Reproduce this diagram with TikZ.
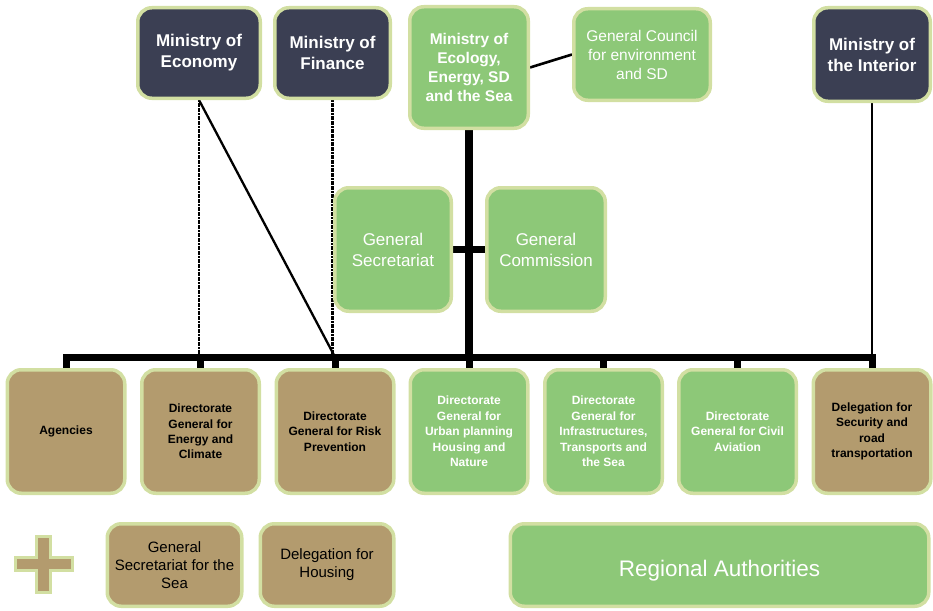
\documentclass[tikz,border=0pt]{standalone}
\usepackage{fontspec}
\setmainfont{Liberation Sans}
\usetikzlibrary{backgrounds}
\definecolor{navy}{HTML}{3B3F53}
\definecolor{leaf}{HTML}{8DC878}
\definecolor{tan}{HTML}{B39B6E}
\definecolor{edge}{HTML}{D2DFA2}
\begin{document}
\begin{tikzpicture}[x=1pt,y=-1pt,
  box/.style={draw=edge, line width=3.5pt, rounded corners=14pt, inner sep=0pt, align=center},
  boxsize/.style 2 args={minimum width=#1pt, minimum height=#2pt},
  ministry/.style={box, fill=navy, text=white, font=\fontsize{17}{21}\selectfont\bfseries},
  greenbox/.style={box, fill=leaf, text=white},
  tanbox/.style={box, fill=tan, text=black},
  dgfont/.style={font=\fontsize{12}{15.4}\selectfont\bfseries},
  bus/.style={line width=7pt, line join=miter},
  trunk/.style={line width=8pt},
  link/.style={line width=2.6pt},
  dotlink/.style={line width=2.2pt, dash pattern=on 2pt off 0.6pt}]
\useasboundingbox (0,0) rectangle (933,610);

% ministries and top-level bodies
\node[ministry, boxsize={122.5}{90.5}] (econ) at (199,53) {Ministry of\\Economy};
\node[ministry, boxsize={115.5}{90.5}] (fin) at (332.5,53) {Ministry of\\Finance};
\node[greenbox, boxsize={118.5}{121.5}, font=\fontsize{15.5}{19}\selectfont\bfseries] (eco) at (469,67.5)
  {Ministry of\\Ecology,\\Energy, SD\\and the Sea};
\node[greenbox, boxsize={136.5}{91.5}, font=\fontsize{15.5}{19}\selectfont] (council) at (642,54.5)
  {General Council\\for environment\\and SD};
\node[ministry, boxsize={116.5}{93.5}] (inter) at (872,54.5) {Ministry of\\the Interior};

% general secretariat and commission
\node[greenbox, boxsize={116.5}{123.5}, font=\fontsize{17}{21}\selectfont] (gsec) at (393,249.5) {General\\Secretariat};
\node[greenbox, boxsize={118.5}{123.5}, font=\fontsize{17}{21}\selectfont] (gcom) at (546,249.5) {General\\Commission};

% directorates
\node[tanbox, dgfont, boxsize={117.5}{123.5}] (agen) at (66,431.5) {Agencies};
\node[tanbox, dgfont, boxsize={117.5}{123.5}] (energy) at (200.5,431.5) {Directorate\\General for\\Energy and\\Climate};
\node[tanbox, dgfont, boxsize={117.5}{123.5}] (risk) at (335,431.5) {Directorate\\General for Risk\\Prevention};
\node[greenbox, text=white, dgfont, boxsize={117.5}{123.5}] (urban) at (469,431.5) {Directorate\\General for\\Urban planning\\Housing and\\Nature};
\node[greenbox, text=white, dgfont, boxsize={117.5}{123.5}] (infra) at (603.5,431.5) {Directorate\\General for\\Infrastructures,\\Transports and\\the Sea};
\node[greenbox, text=white, dgfont, boxsize={117.5}{123.5}] (civil) at (737.5,431.5) {Directorate\\General for Civil\\Aviation};
\node[tanbox, dgfont, boxsize={117.5}{123.5}] (secu) at (872,431.5) {Delegation for\\Security and\\road\\transportation};

% additional bodies
\draw[fill=tan, draw=edge, line width=3pt]
  (15,557.5) -- (36.5,557.5) -- (36.5,536) -- (50.5,536) -- (50.5,557.5) -- (72,557.5)
  -- (72,570.5) -- (50.5,570.5) -- (50.5,592) -- (36.5,592) -- (36.5,570.5) -- (15,570.5) -- cycle;
\node[tanbox, boxsize={134.5}{82.5}, font=\fontsize{15}{18}\selectfont] (sea) at (174.5,565) {General\\Secretariat for the\\Sea};
\node[tanbox, boxsize={133.5}{82.5}, font=\fontsize{15}{18}\selectfont] (housing) at (327,565) {Delegation for\\Housing};
\node[greenbox, boxsize={418.5}{82.5}, font=\fontsize{22.5}{27}\selectfont] (regional) at (719.5,565)
  {\raisebox{-3pt}[\height][0pt]{Regional Authorities}};

% connectors
\coordinate (bar) at (0,357);
\begin{scope}[on background layer]
  \draw[trunk] (eco.south) -- (eco.south |- bar);
  \draw[bus] (gsec.east) -- (gcom.west);
  \draw[bus] (agen.north) -- (agen.north |- bar) -- (secu.north |- bar) -- (secu.north);
  \foreach \n in {energy,risk,urban,infra,civil}
    \draw[bus] (\n.north) -- (\n.north |- bar);
  \draw[link] (eco.east) -- (council.west);
  \draw[link] (inter.south) -- (inter.south |- bar);
  \draw[dotlink] (econ.south) -- (econ.south |- bar);
  \draw[link, line width=2.3pt] (econ.south) -- (risk.north |- bar);
  \draw[dotlink] (fin.south) -- (fin.south |- bar);
\end{scope}
\end{tikzpicture}
\end{document}
